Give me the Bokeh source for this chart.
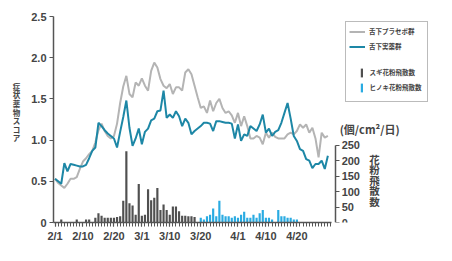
from bokeh.plotting import figure
from bokeh.models import (Range1d, LinearAxis, FixedTicker, Legend, LegendItem,
                          Label)
from bokeh.embed import file_html
from bokeh.resources import INLINE

# ---- data (day index 0 = 2/1) ----
days = list(range(89))
tick_days = [0, 9, 19, 28, 37, 47, 59, 68, 78]
tick_labels = ["2/1", "2/10", "2/20", "3/1", "3/10", "3/20", "4/1", "4/10", "4/20"]

placebo = [0.53, 0.48, 0.45, 0.42, 0.47, 0.53, 0.53, 0.55, 0.65, 0.74,
           0.78, 0.83, 0.87, 0.97, 1.12, 1.20, 1.11, 1.05, 1.02, 1.05,
           1.20, 1.45, 1.65, 1.78, 1.56, 1.52, 1.70, 1.66, 1.75, 1.66,
           1.60, 1.84, 1.94, 1.88, 1.74, 1.66, 1.63, 1.68, 1.56, 1.64,
           1.64, 1.60, 1.82, 1.86, 1.80, 1.66, 1.52, 1.39, 1.41, 1.33,
           1.48, 1.35, 1.45, 1.50, 1.39, 1.33, 1.35, 1.30, 1.21, 1.33,
           1.17, 1.29, 1.17, 1.02, 1.02, 1.05, 1.03, 0.95, 1.09, 1.03,
           1.09, 1.04, 1.02, 1.02, 1.02, 1.07, 1.09, 1.07, 1.11, 1.19,
           1.15, 1.19, 1.09, 1.15, 1.02, 0.79, 1.09, 1.03, 1.05]

active = [0.53, 0.50, 0.47, 0.72, 0.62, 0.71, 0.70, 0.69, 0.68, 0.68,
          0.70, 0.78, 0.87, 0.91, 1.21, 1.17, 1.12, 1.08, 1.05, 1.02,
          0.91, 1.10, 1.28, 1.48, 1.15, 0.93, 1.02, 1.14, 0.95, 1.10,
          1.14, 1.24, 1.26, 1.35, 1.36, 1.60, 1.27, 1.31, 1.27, 1.35,
          1.29, 1.17, 1.26, 1.21, 1.07, 1.11, 1.14, 1.17, 1.21, 1.21,
          1.20, 1.11, 1.23, 1.23, 1.22, 1.21, 1.21, 1.20, 1.02, 1.19,
          0.99, 1.07, 1.05, 1.17, 1.14, 1.11, 1.19, 1.31, 1.09, 1.14,
          1.05, 1.10, 1.12, 1.21, 1.33, 1.45, 1.26, 1.05, 0.99, 0.89,
          0.87, 0.77, 0.75, 0.66, 0.71, 0.71, 0.75, 0.65, 0.81]

sugi = [0, 0, 10, 0, 0, 0, 0, 10, 0, 0,
        10, 10, 0, 15, 30, 22, 15, 15, 15, 15,
        18, 20, 70, 230, 62, 55, 25, 124, 22, 25,
        107, 72, 80, 111, 40, 58, 40, 25, 52, 52,
        36, 22, 22, 20, 20, 18, 0, 0, 0, 0,
        0, 0, 0, 0, 0, 0, 0, 0, 0, 0,
        0, 0, 0, 0, 0, 0, 0, 0, 0, 0,
        0, 0, 0, 0, 0, 0, 0, 0, 0, 0,
        0, 0, 0, 0, 0, 0, 0, 0, 0]

hinoki = [0, 0, 0, 0, 0, 0, 0, 0, 0, 0,
          0, 0, 0, 0, 0, 0, 0, 0, 0, 0,
          0, 0, 0, 0, 0, 0, 0, 0, 0, 0,
          0, 0, 0, 0, 0, 0, 0, 0, 0, 0,
          0, 0, 0, 0, 0, 0, 0, 15, 10, 20,
          25, 45, 20, 70, 25, 20, 20, 15, 20, 15,
          25, 35, 15, 15, 25, 15, 30, 40, 15, 15,
          10, 0, 40, 20, 20, 15, 15, 10, 10, 0,
          0, 0, 0, 0, 0, 0, 0, 0, 0]

y_ticks = [0, 0.5, 1.0, 1.5, 2.0, 2.5]
y_tick_labels = ["0", "0.5", "1.0", "1.5", "2.0", "2.5"]
pollen_ticks = [0, 50, 100, 150, 200, 250]

# ---- styles ----
AX = "#555555"
TXT = "#444444"
GRAY = "#b4b4b4"
TEAL = "#1d87a6"
SUGI = "#505050"
HINOKI = "#29abe2"
JP = "Noto Sans CJK JP"

# frame spans 53..430 px so the legend fits inside it; 3.1 px per day
p = figure(width=444, height=245, output_backend="svg", toolbar_location=None,
           x_range=Range1d(-0.5, 121.1), y_range=Range1d(0, 2.5),
           min_border_left=53, min_border_right=14, min_border_top=15,
           min_border_bottom=23)
p.extra_y_ranges = {"pollen": Range1d(0, 665)}
p.xgrid.visible = False
p.ygrid.visible = False
p.outline_line_color = None

r_sugi = p.vbar(x=days, top=sugi, width=0.7, y_range_name="pollen",
                fill_color=SUGI, line_color=None)
r_hino = p.vbar(x=days, top=hinoki, width=0.7, y_range_name="pollen",
                fill_color=HINOKI, line_color=None)
r_gray = p.line(days, placebo, line_color=GRAY, line_width=2)
r_teal = p.line(days, active, line_color=TEAL, line_width=2)
r_space = p.line(x=[], y=[], line_alpha=0)

def style_axis(ax):
    ax.axis_line_color = AX
    ax.axis_line_width = 1.5
    ax.major_tick_line_color = AX
    ax.major_tick_line_width = 1.2
    ax.major_tick_in = 0
    ax.major_tick_out = 4
    ax.major_label_text_font = "Liberation Sans"
    ax.major_label_text_font_style = "bold"
    ax.major_label_text_font_size = "11px"
    ax.major_label_text_color = TXT

xa = p.xaxis[0]
style_axis(xa)
xa.ticker = FixedTicker(ticks=tick_days, minor_ticks=days + [89])
xa.major_label_overrides = dict(zip(tick_days, tick_labels))
xa.minor_tick_line_color = AX
xa.minor_tick_in = 0
xa.minor_tick_out = 4
xa.bounds = (-0.5, 89.3)
xa.major_label_standoff = 3

ya = p.yaxis[0]
style_axis(ya)
ya.ticker = FixedTicker(ticks=y_ticks)
ya.major_label_overrides = dict(zip(y_ticks, y_tick_labels))
ya.minor_tick_line_color = None
ya.major_label_standoff = 3

ra = LinearAxis(y_range_name="pollen", ticker=FixedTicker(ticks=pollen_ticks),
                bounds=(0, 250), fixed_location=90.5)
style_axis(ra)
ra.minor_tick_line_color = None
ra.major_label_standoff = 2
p.add_layout(ra, "right")

common = dict(margin=0, label_text_font=JP, label_text_font_size="6.5px",
              label_text_font_style="bold", label_text_color=TXT)
legA = Legend(items=[LegendItem(label="舌下プラセボ群", renderers=[r_gray]),
                     LegendItem(label="舌下実薬群", renderers=[r_teal]),
                     LegendItem(label=" ", renderers=[r_space]),
                     LegendItem(label=" ", renderers=[r_space]),
                     LegendItem(label=" ", renderers=[r_space])],
              location=(292, 120.2), glyph_width=16, glyph_height=13,
              label_height=13, label_width=55, spacing=2, padding=3,
              label_standoff=4, border_line_color="#777777",
              border_line_width=1, background_fill_color="white",
              background_fill_alpha=1.0, **common)
legB = Legend(items=[LegendItem(label="スギ花粉飛散数", renderers=[r_sugi]),
                     LegendItem(label="ヒノキ花粉飛散数", renderers=[r_hino])],
              location=(306.5, 129.2), glyph_width=3, glyph_height=11,
              label_height=11, label_width=10, spacing=4, padding=0,
              label_standoff=7, border_line_alpha=0, background_fill_alpha=0,
              **common)
p.add_layout(legA)
p.add_layout(legB)

p.add_layout(Label(x=-5, y=141.7, x_units="screen", y_units="screen",
                   text="症\n状\n薬\n物\nス\nコ\nア", text_align="center",
                   text_baseline="top", text_font=JP, text_font_size="7.5px",
                   text_font_style="bold", text_line_height=0.78,
                   text_color=TXT), "left")
p.add_layout(Label(x=363, y=42.2, x_units="screen", y_units="screen",
                   text="花\n粉\n飛\n散\n数", text_align="center",
                   text_baseline="middle", text_font=JP, text_font_size="10.5px",
                   text_font_style="bold", text_line_height=0.71,
                   text_color=TXT), "left")
p.add_layout(Label(x=316, y=-112, x_units="screen", y_units="screen",
                   text="(個/cm²/日)", text_align="center",
                   text_baseline="middle", text_font=JP, text_font_size="11px",
                   text_font_style="bold", text_color=TXT), "above")

open("out.html", "w").write(file_html(p, INLINE))
